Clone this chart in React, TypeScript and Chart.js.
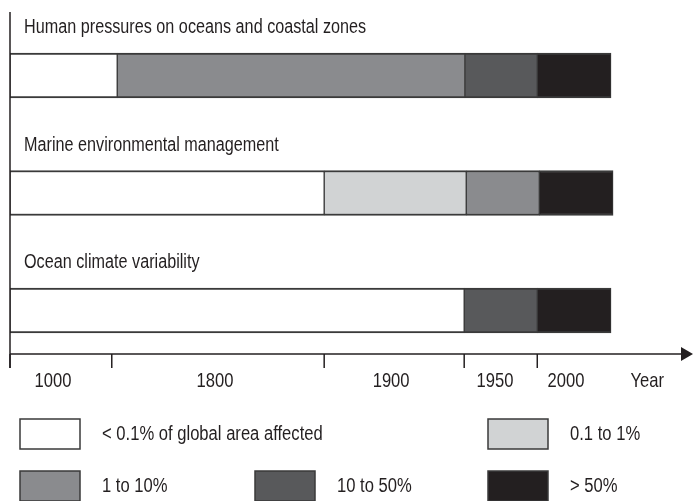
import React, { useEffect, useRef } from 'react';
import { Chart, registerables } from 'chart.js';

Chart.register(...registerables);

// ---- data ----
const categories = [
  'Human pressures on oceans and coastal zones',
  'Marine environmental management',
  'Ocean climate variability',
];

const classLabels = [
  '< 0.1% of global area affected',
  '0.1 to 1%',
  '1 to 10%',
  '10 to 50%',
  '> 50%',
];
const classColors = ['#ffffff', '#d1d3d4', '#8a8b8e', '#58595b', '#231f20'];

// segment [start, end] along the time axis (0–100 of drawn axis length), null = absent
const below01: (number[] | null)[] = [[0, 15.7], [0, 46.0], [0, 66.5]];
const from01to1: (number[] | null)[] = [null, [46.0, 66.8], null];
const from1to10: (number[] | null)[] = [[15.7, 66.6], [66.8, 77.5], null];
const from10to50: (number[] | null)[] = [[66.6, 77.2], null, [66.5, 77.2]];
const above50: (number[] | null)[] = [[77.2, 88.0], [77.5, 88.3], [77.2, 88.0]];

const periodBoundaries = [0, 14.9, 46.0, 66.5, 77.2];
const tickLabels = ['1000', '1800', '1900', '1950', '2000', 'Year'];
const tickLabelPositions = [6.3, 30.0, 55.8, 71.0, 81.4, 93.3];

const FONT = "'Liberation Sans', Arial, sans-serif";
const INK = '#231f20';

const seriesList = [below01, from01to1, from1to10, from10to50, above50];

function narrowText(
  ctx: CanvasRenderingContext2D,
  text: string,
  x: number,
  y: number,
  size: number,
  squeeze: number,
  align: CanvasTextAlign
) {
  ctx.save();
  ctx.font = `${size}px ${FONT}`;
  ctx.textAlign = align;
  ctx.textBaseline = 'middle';
  ctx.translate(x, y);
  ctx.scale(squeeze, 1);
  ctx.fillText(text, 0, 0);
  ctx.restore();
}

export default function App() {
  const ref = useRef<HTMLCanvasElement | null>(null);

  useEffect(() => {
    if (!ref.current) return;

    const overlay = {
      id: 'timelineOverlay',
      afterDatasetsDraw(chart: any) {
        const ctx = chart.ctx as CanvasRenderingContext2D;
        const xs = chart.scales.x;
        const ys = chart.scales.y;
        const axisY = ys.bottom;
        const x0 = xs.getPixelForValue(0);
        ctx.save();
        ctx.fillStyle = INK;

        // titles above bars
        categories.forEach((c, i) => {
          const yc = ys.getPixelForValue(i);
          narrowText(ctx, c, x0 + 14, yc - 48, 20, 0.81, 'left');
        });

        // vertical axis line
        ctx.strokeStyle = INK;
        ctx.lineWidth = 1.5;
        ctx.beginPath();
        ctx.moveTo(x0, ys.top);
        ctx.lineTo(x0, axisY + 14);
        ctx.stroke();

        // horizontal axis with arrow
        const xEnd = xs.right;
        ctx.beginPath();
        ctx.moveTo(x0, axisY);
        ctx.lineTo(xEnd - 10, axisY);
        ctx.stroke();
        ctx.beginPath();
        ctx.moveTo(xEnd, axisY);
        ctx.lineTo(xEnd - 12, axisY - 7);
        ctx.lineTo(xEnd - 12, axisY + 7);
        ctx.closePath();
        ctx.fill();

        // period tick marks
        periodBoundaries.forEach((b) => {
          const px = xs.getPixelForValue(b);
          ctx.beginPath();
          ctx.moveTo(px, axisY);
          ctx.lineTo(px, axisY + 14);
          ctx.stroke();
        });

        // tick labels
        tickLabels.forEach((t, i) => {
          narrowText(ctx, t, xs.getPixelForValue(tickLabelPositions[i]), axisY + 27, 21, 0.79, 'center');
        });

        // legend
        const legendSlots = [
          [20, 419],
          [488, 419],
          [20, 471],
          [255, 471],
          [488, 471],
        ];
        classLabels.forEach((lab, i) => {
          const [lx, ly] = legendSlots[i];
          ctx.fillStyle = classColors[i];
          ctx.fillRect(lx, ly, 60, 30);
          ctx.strokeStyle = '#3a3a3a';
          ctx.lineWidth = 1.5;
          ctx.strokeRect(lx, ly, 60, 30);
          ctx.fillStyle = INK;
          narrowText(ctx, lab, lx + 82, ly + 15, 20, 0.83, 'left');
        });

        ctx.restore();
      },
    };

    const chart = new Chart(ref.current, {
      type: 'bar',
      data: {
        datasets: seriesList.map((s, k) => ({
          label: classLabels[k],
          data: s
            .map((v, i) => ({ x: v, y: i }))
            .filter((d) => d.x !== null) as any,
          backgroundColor: classColors[k],
          borderColor: '#3a3a3a',
          borderWidth: { top: 2, bottom: 2, left: 1, right: 1 },
          borderSkipped: false,
          barThickness: 45,
          grouped: false,
        })),
      },
      options: {
        indexAxis: 'y',
        responsive: false,
        animation: false,
        devicePixelRatio: 1,
        layout: { padding: { left: 10, top: 12, right: 0, bottom: 147 } },
        scales: {
          x: { type: 'linear', min: 0, max: 100, display: false, offset: false },
          y: {
            type: 'linear',
            min: -0.5404,
            max: 2.3702,
            reverse: true,
            display: false,
            offset: false,
            grid: { offset: false },
          },
        },
        plugins: {
          legend: { display: false },
          tooltip: { enabled: false },
        },
      } as any,
      plugins: [overlay],
    });

    return () => chart.destroy();
  }, []);

  return (
    <div style={{ position: 'absolute', left: 0, top: 0, width: 693, height: 501, background: '#fff' }}>
      <canvas ref={ref} width={693} height={501} style={{ display: 'block' }} />
    </div>
  );
}
